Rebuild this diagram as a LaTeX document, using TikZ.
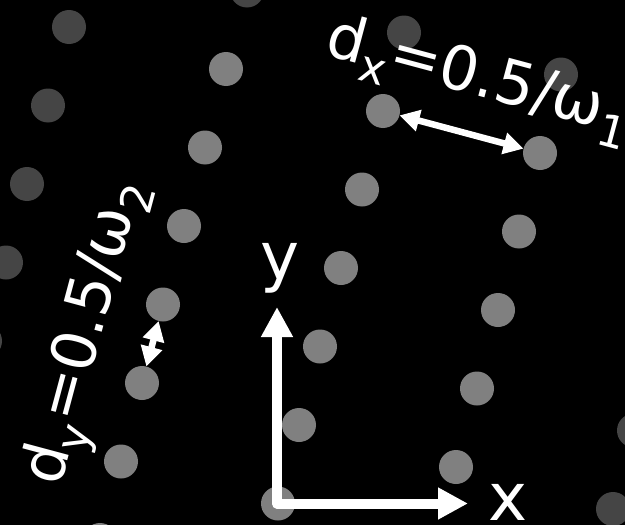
\documentclass[tikz,border=0pt]{standalone}
\usepackage{fontspec}
\setmainfont{DejaVu Sans}
\usetikzlibrary{arrows.meta}
\newcommand\lowsub[1]{\raisebox{-0.26em}{\fontsize{44.5}{44.5}\selectfont #1}}

\begin{document}
\begin{tikzpicture}[
  x=1pt, y=-1pt,
  dot/.style={circle, minimum size=34pt, inner sep=0pt, outer sep=0pt},
  spacing/.style={{Triangle[length=20pt, width=21pt]}-{Triangle[length=20pt, width=21pt]}, white, line width=6.5pt},
  axis/.style={{Triangle[length=30pt, width=30pt]}-{Triangle[length=30pt, width=30pt]}, white, line width=10pt, line join=round},
  big/.style={text=white, inner sep=0pt, font=\fontsize{61}{67}\selectfont},
  axlbl/.style={text=white, inner sep=0pt, font=\fontsize{66}{70}\selectfont},
]
\useasboundingbox (0,0) rectangle (625,525);
\fill[black] (0,0) rectangle (625,525);
\clip (0,0) rectangle (625,525);
% ---- lattice
\foreach \i in {0,...,4}{
  \foreach \j in {-1,...,6}{
    \pgfmathtruncatemacro\shade{(\i==0 || \i==4 || \j==-1) ? 27 : 50}
    \node[dot, fill=white!\shade!black] (p-\i-\j) at ({69+157*\i-21*\j},{27+42*\i+78.5*\j}) {};
  }
}
% ---- spacings
\draw[spacing] (p-2-0) -- (p-3-0);
\draw[spacing] (p-1-3) -- (p-1-4);
\node[big, rotate=-15, anchor=base west] (dxlab) at (323,54) {d\lowsub{x}=0.5/ω\lowsub{1}};
\node[big, rotate=75, anchor=base west] (dylab) at (60,488) {d\lowsub{y}=0.5/ω\lowsub{2}};
% ---- axes
\coordinate (o) at (277,503.5);
\coordinate (ytip) at (277,307);
\coordinate (xtip) at (468,503.5);
\draw[axis] (ytip) -- (o) -- (xtip);
\node[axlbl, anchor=base] (ylab) at (280,279) {y};
\node[axlbl, anchor=base] (xlab) at (508,520) {x};
\end{tikzpicture}
\end{document}
